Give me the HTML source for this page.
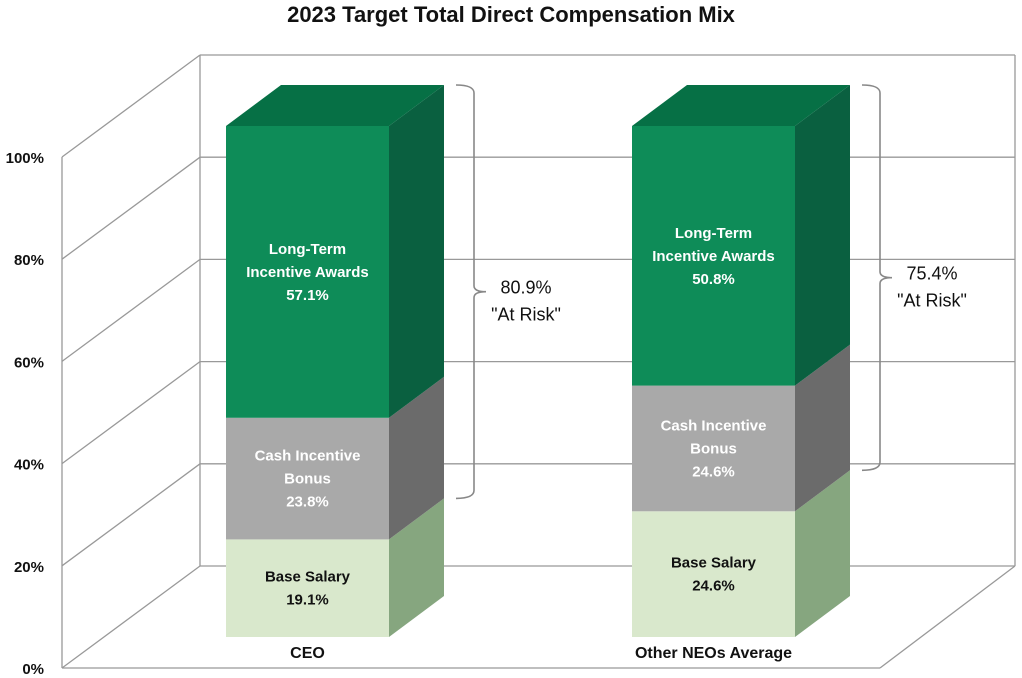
<!DOCTYPE html>
<html><head><meta charset="utf-8"><style>
body{margin:0;background:#fff;}
svg{display:block;font-family:"Liberation Sans",sans-serif;}
</style></head><body>
<svg id="c" width="1022" height="678">
<text x="511" y="22" text-anchor="middle" font-size="22" font-weight="bold" fill="#111">2023 Target Total Direct Compensation Mix</text>
<g id="grid"></g>
<g id="bars"></g>
<g id="ann"></g>
</svg>
<script>
const categories=["CEO","Other NEOs Average"];
const baseSalary=[19.1,24.6];
const cashBonus=[23.8,24.6];
const ltiAwards=[57.1,50.8];
const atRisk=[80.9,75.4];
const yTicks=[0,20,40,60,80,100];
const segNames=["Base Salary","Cash Incentive Bonus","Long-Term Incentive Awards"];

const NS="http://www.w3.org/2000/svg";
function mk(t,a,p){const e=document.createElementNS(NS,t);for(const k in a)e.setAttribute(k,a[k]);p.appendChild(e);return e;}
const fy=v=>668-v*5.11;      // front-left axis
const by=v=>fy(v)-102;       // back wall
const barY=v=>637-v*5.11;
const barX=[226,632], BW=163, DX=55, DY=-41;
const G=document.getElementById('grid'),B=document.getElementById('bars'),A=document.getElementById('ann');
const gs={stroke:"#999","stroke-width":1.3,fill:"none"};
yTicks.forEach(t=>{
  let l=mk('line',Object.assign({x1:62,y1:fy(t),x2:200,y2:by(t)},gs),G);
  
  let h=mk('line',Object.assign({x1:200,y1:by(t),x2:1015,y2:by(t)},gs),G);
  
  let tx=mk('text',{x:44,y:fy(t)+6,"text-anchor":"end","font-size":15,"font-weight":"bold",fill:"#111"},G);
  tx.textContent=t+"%";
});
[[62,fy(0),62,fy(100)],[200,by(0),200,by(100)],[1015,by(0),1015,by(100)],[62,fy(0),880,fy(0)],[880,fy(0),1015,by(0)]].forEach((c,i)=>{
  let l=mk('line',Object.assign({x1:c[0],y1:c[1],x2:c[2],y2:c[3]},gs),G);
  
});
const fronts=["#d9e8cc","#a9a9a9","#0e8c58"],sides=["#86a67f","#6b6b6b","#0a6040"],tops=["#c8dcb8","#8a8a8a","#067045"];
const txtCol=["#111","#fff","#fff"];
categories.forEach((cat,i)=>{
  const vals=[baseSalary[i],cashBonus[i],ltiAwards[i]];
  let acc=0;const x=barX[i];
  vals.forEach((v,s)=>{
    const y0=barY(acc),y1=barY(acc+v);acc+=v;
    let f=mk('rect',{x:x,y:y1,width:BW,height:y0-y1,fill:fronts[s]},B);
    
    let sd=mk('polygon',{points:`${x+BW},${y0} ${x+BW+DX},${y0+DY} ${x+BW+DX},${y1+DY} ${x+BW},${y1}`,fill:sides[s]},B);
    
    if(s===2){let tp=mk('polygon',{points:`${x},${y1} ${x+DX},${y1+DY} ${x+BW+DX},${y1+DY} ${x+BW},${y1}`,fill:tops[s]},B);
      }
    const lines=s===0?["Base Salary",v.toFixed(1)+"%"]:s===1?["Cash Incentive","Bonus",v.toFixed(1)+"%"]:["Long-Term","Incentive Awards",v.toFixed(1)+"%"];
    const cy=(y0+y1)/2-(lines.length-1)*11.5;
    let t=mk('text',{x:x+BW/2,y:cy+5,"text-anchor":"middle","font-size":15,"font-weight":"bold",fill:txtCol[s]},B);
    
    lines.forEach((ln,k)=>{let ts=mk('tspan',{x:x+BW/2,dy:k?23:0},t);ts.textContent=ln;});
  });
  let cl=mk('text',{x:x+BW/2,y:658,"text-anchor":"middle","font-size":16,"font-weight":"bold",fill:"#111"},B);
  cl.textContent=cat;
  // bracket
  const top=barY(100)+DY, bot=barY(100-atRisk[i])+DY+ (i===0?0:0);
  const bx=x+BW+DX+12, mid=(top+bot)/2;
  let br=mk('path',{d:`M${bx},${top} Q${bx+18},${top} ${bx+18},${top+8} L${bx+18},${mid-6} Q${bx+18},${mid} ${bx+30},${mid} Q${bx+18},${mid} ${bx+18},${mid+6} L${bx+18},${bot-8} Q${bx+18},${bot} ${bx},${bot}`,stroke:"#888","stroke-width":1.6,fill:"none"},A);
  
  let at=mk('text',{x:bx+70,y:mid+2,"text-anchor":"middle","font-size":18,fill:"#111"},A);
  
  let t1=mk('tspan',{x:bx+70,dy:0},at);t1.textContent=atRisk[i].toFixed(1)+"%";
  let t2=mk('tspan',{x:bx+70,dy:27},at);t2.textContent='"At Risk"';
});
</script>
</body></html>
